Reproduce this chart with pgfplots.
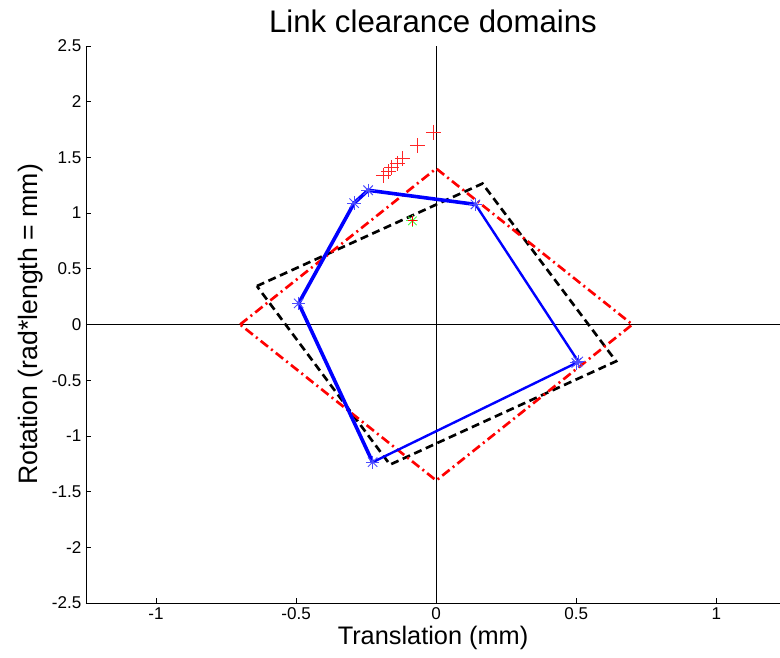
\documentclass[border=0pt]{standalone}
\usepackage{pgfplots}
\pgfplotsset{compat=1.18}
\usepackage{fontspec}
\setmainfont{Liberation Sans}
\begin{document}
\begin{tikzpicture}
\begin{axis}[
  scale only axis, width=520.5pt, height=417.75pt,
  xmin=-1.25, xmax=1.227, ymin=-2.5, ymax=2.5,
  axis x line*=bottom, axis y line*=left,
  axis line style={black, line width=0.5pt},
  xtick={-1,-0.5,0,0.5,1},
  ytick={-2.5,-2,-1.5,-1,-0.5,0,0.5,1,1.5,2,2.5},
  tick align=inside, major tick length=3.75pt,
  tick style={black, line width=0.5pt},
  /pgf/number format/assume math mode=true,
  ticklabel style={font=\fontsize{12.8}{14}\selectfont},
  xlabel={Translation (mm)}, ylabel={Rotation (rad*length = mm)},
  xlabel style={font=\fontsize{19}{22}\selectfont, yshift=2pt},
  ylabel style={font=\fontsize{20}{23}\selectfont},
  title={Link clearance domains},
  title style={font=\fontsize{23.4}{27}\selectfont},
]
\draw[black, line width=0.5pt] (axis cs:0,-2.5) -- (axis cs:0,2.5);
\draw[black, line width=0.5pt] (axis cs:-1.25,0) -- (axis cs:1.227,0);
% black dashed rectangle
\addplot[black, line width=2pt, dash pattern=on 6pt off 3.5pt, mark=none] coordinates {
 (-0.64,0.345) (0.165,1.265) (0.642,-0.33) (-0.165,-1.258) (-0.64,0.345)};
% red dash-dot diamond
\addplot[red, line width=2pt, dash pattern=on 7pt off 3pt on 1.5pt off 3pt, mark=none] coordinates {
 (-0.7,0) (0,1.4) (0.7,0) (0,-1.4) (-0.7,0)};
% blue polygon
\addplot[blue, line width=1.8pt, mark=none] coordinates {
 (-0.227,-1.236) (0.500,-0.345) (0.507,-0.332) (0.140,1.078)};
\addplot[blue, line width=2.7pt, mark=none] coordinates {
 (0.140,1.078) (-0.243,1.205) (-0.293,1.090) (-0.491,0.190) (-0.227,-1.236)};
% blue asterisk markers
\addplot[only marks, blue!70!white, mark=+, mark size=5pt, mark options={line width=0.7pt}] coordinates {
 (-0.243,1.205) (-0.293,1.090) (-0.491,0.190) (-0.227,-1.236) (0.500,-0.345) (0.507,-0.332) (0.140,1.078)};
\addplot[only marks, blue!70!white, mark=x, mark size=5pt, mark options={line width=0.7pt}] coordinates {
 (-0.243,1.205) (-0.293,1.090) (-0.491,0.190) (-0.227,-1.236) (0.500,-0.345) (0.507,-0.332) (0.140,1.078)};
% red plus markers
\addplot[only marks, red!85!white, mark=+, mark size=5.6pt, mark options={line width=0.8pt}] coordinates {
 (-0.010,1.727) (-0.067,1.607) (-0.121,1.486) (-0.139,1.447) (-0.159,1.408) (-0.171,1.372) (-0.189,1.341)};
% green asterisk with red centre
\addplot[only marks, green!75!white, mark=+, mark size=4.5pt, mark options={line width=0.7pt}] coordinates {(-0.085,0.930)};
\addplot[only marks, green!75!white, mark=x, mark size=4.5pt, mark options={line width=0.7pt}] coordinates {(-0.085,0.930)};
\addplot[only marks, red, mark=+, mark size=3.5pt, mark options={line width=0.7pt}] coordinates {(-0.085,0.930)};
\end{axis}
\pgfresetboundingbox
\path ([xshift=-64.5pt,yshift=-40.5pt]current axis.south west) rectangle ([yshift=34.5pt]current axis.north east);
\end{tikzpicture}
\end{document}
